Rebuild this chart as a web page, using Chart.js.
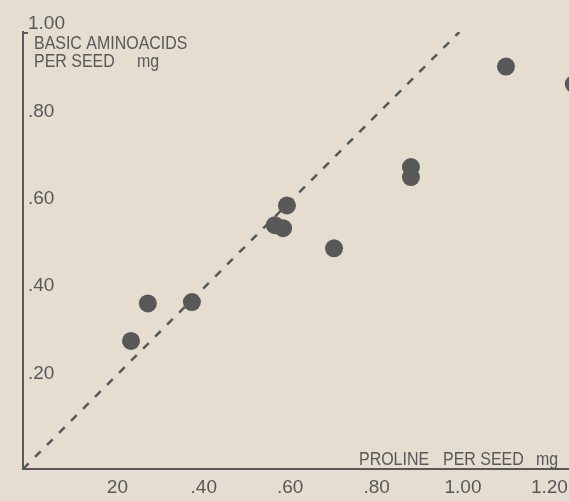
<!DOCTYPE html>
<html>
<head>
<meta charset="utf-8">
<script src="https://cdn.jsdelivr.net/npm/chart.js@4.4.1/dist/chart.umd.min.js"></script>
<style>
  html, body { margin: 0; padding: 0; background: #e4ddd0; overflow: hidden; }
  #wrap { width: 600px; height: 501px; }
</style>
</head>
<body>
<div id="wrap"><canvas id="chart" width="600" height="501"></canvas></div>
<script>
// values (mg per seed)
const prolineMg = [0.25, 0.289, 0.391, 0.583, 0.602, 0.611, 0.72, 0.898, 0.898, 1.118, 1.275];
const aminoacidsMg = [0.293, 0.379, 0.382, 0.558, 0.551, 0.603, 0.505, 0.691, 0.668, 0.921, 0.881];

// 1:1 reference line
const diagonalX = [0, 1.01];
const diagonalY = [0, 1.0];

const xTickValues = [0.2, 0.4, 0.6, 0.8, 1.0, 1.2];
const xTickLabels = ["20", ".40", ".60", ".80", "1.00", "1.20"];
const yTickValues = [0.2, 0.4, 0.6, 0.8, 1.0];
const yTickLabels = [".20", ".40", ".60", ".80", "1.00"];

// title pieces and where their lettering starts in the scan: [text, left, baseline]
const titlePieces = [
  ["BASIC AMINOACIDS", 34, 49],
  ["PER SEED", 34, 67],
  ["mg", 137, 67],
  ["PROLINE", 359, 465],
  ["PER SEED", 443, 465],
  ["mg", 536, 465],
];

const ink = "#585858";
const fontFamily = "'Liberation Sans', Arial, sans-serif";
const squeeze = 0.84; // the stencil lettering is narrower than the font

function narrowText(ctx, text, left, baseline) {
  ctx.save();
  ctx.translate(left, baseline);
  ctx.scale(squeeze, 1);
  ctx.fillText(text, 0, 0);
  ctx.restore();
}

const titles = {
  id: "titles",
  afterDraw(chart) {
    const { ctx, chartArea } = chart;
    ctx.save();
    ctx.fillStyle = ink;
    ctx.strokeStyle = ink;
    ctx.lineWidth = 2;
    // little hook on top of the y axis
    ctx.beginPath();
    ctx.moveTo(chartArea.left, chartArea.top + 1);
    ctx.lineTo(chartArea.left + 5, chartArea.top + 1);
    ctx.stroke();

    ctx.font = "19px " + fontFamily;
    ctx.textBaseline = "alphabetic";
    ctx.textAlign = "left";
    titlePieces.forEach(([t, l, b]) => narrowText(ctx, t, l, b));
    ctx.restore();
  }
};

new Chart(document.getElementById("chart").getContext("2d"), {
  type: "scatter",
  data: {
    datasets: [
      {
        label: "samples",
        data: prolineMg.map((x, i) => ({ x, y: aminoacidsMg[i] })),
        backgroundColor: ink,
        borderWidth: 0,
        pointRadius: 9,
        pointHoverRadius: 9,
        clip: false,
      },
      {
        type: "line",
        label: "1:1",
        data: diagonalX.map((x, i) => ({ x, y: diagonalY[i] })),
        borderColor: ink,
        borderWidth: 2.5,
        borderDash: [8, 9],
        pointRadius: 0,
        fill: false,
      },
    ],
  },
  options: {
    responsive: false,
    animation: false,
    layout: { autoPadding: false, padding: { top: 32, right: 0, left: 0, bottom: 0 } },
    plugins: {
      legend: { display: false },
      tooltip: { enabled: false },
    },
    scales: {
      x: {
        type: "linear",
        min: 0,
        max: 577 / 432,
        afterFit: (s) => { s.height = 32; s.paddingRight = 0; s.paddingLeft = 0; },
        afterBuildTicks: (s) => { s.ticks = xTickValues.map((v) => ({ value: v })); },
        grid: { display: false, drawTicks: false },
        border: { color: ink, width: 2 },
        ticks: {
          color: ink,
          font: { family: fontFamily, size: 19, lineHeight: 1 },
          padding: 9,
          labelOffset: 8,
          maxRotation: 0,
          callback: (v) => xTickLabels[xTickValues.findIndex((t) => Math.abs(t - v) < 1e-6)],
        },
      },
      y: {
        type: "linear",
        min: 0,
        max: 1.0,
        afterFit: (s) => { s.width = 23; s.paddingTop = 0; s.paddingBottom = 0; },
        afterBuildTicks: (s) => { s.ticks = yTickValues.map((v) => ({ value: v })); },
        grid: { display: false, drawTicks: false },
        border: { color: ink, width: 2 },
        ticks: {
          color: ink,
          mirror: true,
          font: { family: fontFamily, size: 19, lineHeight: 1 },
          padding: 5,
          labelOffset: -8,
          callback: (v) => yTickLabels[yTickValues.findIndex((t) => Math.abs(t - v) < 1e-6)],
        },
      },
    },
  },
  plugins: [titles],
});
</script>
</body>
</html>
